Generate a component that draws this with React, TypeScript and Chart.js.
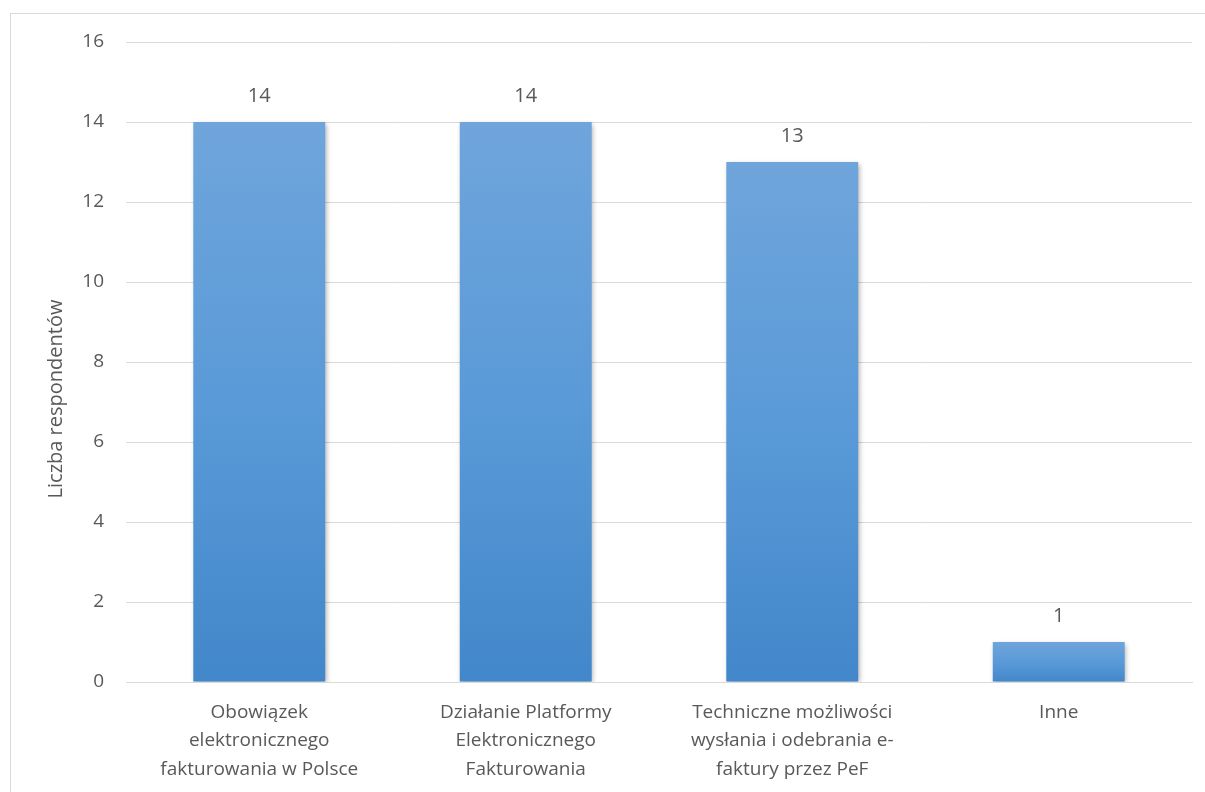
import React, { useEffect, useRef } from "react";
import { Chart, registerables } from "chart.js";

Chart.register(...registerables);

const categories: string[][] = [
  ["Obowiązek", "elektronicznego", "fakturowania w Polsce"],
  ["Działanie Platformy", "Elektronicznego", "Fakturowania"],
  ["Techniczne możliwości", "wysłania i odebrania e-", "faktury przez PeF"],
  ["Inne"],
];
const values: number[] = [14, 14, 13, 1];
const yTicks = { min: 0, max: 16, step: 2 };
const yTitle = "Liczba respondentów";

const FONT = "'Open Sans', 'Noto Sans', sans-serif";
const TEXT = "#595959";

const frame = {
  id: "frame",
  beforeDraw(chart: any) {
    const ctx = chart.ctx;
    ctx.save();
    ctx.fillStyle = "#ffffff";
    ctx.fillRect(0, 0, chart.width, chart.height);
    ctx.strokeStyle = "#d9d9d9";
    ctx.lineWidth = 1;
    ctx.strokeRect(10.5, 13.5, chart.width + 20, chart.height + 20);
    ctx.restore();
  },
  beforeDatasetsDraw(chart: any) {
    const ctx = chart.ctx;
    ctx.save();
    ctx.shadowColor = "rgba(0,0,0,0.32)";
    ctx.shadowBlur = 5;
    ctx.shadowOffsetX = 1.5;
    ctx.shadowOffsetY = 1.5;
  },
  afterDatasetsDraw(chart: any) {
    const ctx = chart.ctx;
    ctx.restore();
    const meta = chart.getDatasetMeta(0);
    ctx.save();
    ctx.fillStyle = TEXT;
    ctx.font = `20px ${FONT}`;
    ctx.textAlign = "center";
    ctx.textBaseline = "alphabetic";
    meta.data.forEach((bar: any, i: number) => {
      ctx.fillText(String(values[i]), bar.x, bar.y - 20);
    });
    ctx.restore();
  },
  afterDraw(chart: any) {
    const ctx = chart.ctx;
    const area = chart.chartArea;
    ctx.save();
    ctx.fillStyle = TEXT;
    ctx.font = `20px ${FONT}`;
    ctx.textAlign = "center";
    ctx.textBaseline = "middle";
    ctx.translate(56, (area.top + area.bottom) / 2 + 37);
    ctx.rotate(-Math.PI / 2);
    ctx.fillText(yTitle, 0, 0);
    ctx.restore();
  },
};

export default function App() {
  const ref = useRef<HTMLCanvasElement>(null);
  useEffect(() => {
    if (!ref.current) return;
    const chart = new Chart(ref.current, {
      type: "bar",
      data: {
        labels: categories,
        datasets: [
          {
            data: values,
            barPercentage: 0.99,
            categoryPercentage: 0.5,
            borderWidth: 0,
            backgroundColor: (c: any) => {
              const ch = c.chart;
              const y = ch.scales && ch.scales.y;
              if (!y || !ch.chartArea || c.type !== "data") return "#5b9bd5";
              const top = y.getPixelForValue(c.parsed.y);
              const bottom = y.getPixelForValue(0);
              if (!isFinite(top) || !isFinite(bottom) || top === bottom) return "#5b9bd5";
              const g = ch.ctx.createLinearGradient(0, top, 0, bottom);
              g.addColorStop(0, "#6fa5db");
              g.addColorStop(0.5, "#5a9ad8");
              g.addColorStop(1, "#4287ca");
              return g;
            },
          },
        ],
      },
      options: {
        animation: false,
        responsive: false,
        maintainAspectRatio: false,
        layout: { padding: { top: 42, right: 13, left: 0, bottom: 0 } },
        plugins: {
          legend: { display: false },
          tooltip: { enabled: false },
        },
        scales: {
          x: {
            grid: { display: false, drawTicks: false },
            border: { display: true, color: "#d9d9d9", width: 1 },
            ticks: {
              color: TEXT,
              font: { family: FONT, size: 19, lineHeight: 1.5 },
              padding: 16,
              maxRotation: 0,
              autoSkip: false,
            },
            afterFit(s: any) {
              s.height = 110;
            },
          },
          y: {
            min: yTicks.min,
            max: yTicks.max,
            ticks: {
              stepSize: yTicks.step,
              color: TEXT,
              font: { family: FONT, size: 19 },
              padding: 22,
            },
            grid: { color: "#d9d9d9", lineWidth: 1, drawTicks: false },
            border: { display: false },
            title: { display: false },
            afterFit(s: any) {
              s.width = 126;
            },
          },
        },
      },
      plugins: [frame],
    });
    return () => chart.destroy();
  }, []);
  return (
    <div style={{ position: "fixed", left: 0, top: 0, width: 1205, height: 792 }}>
      <canvas ref={ref} width={1205} height={792} style={{ width: 1205, height: 792 }} />
    </div>
  );
}
